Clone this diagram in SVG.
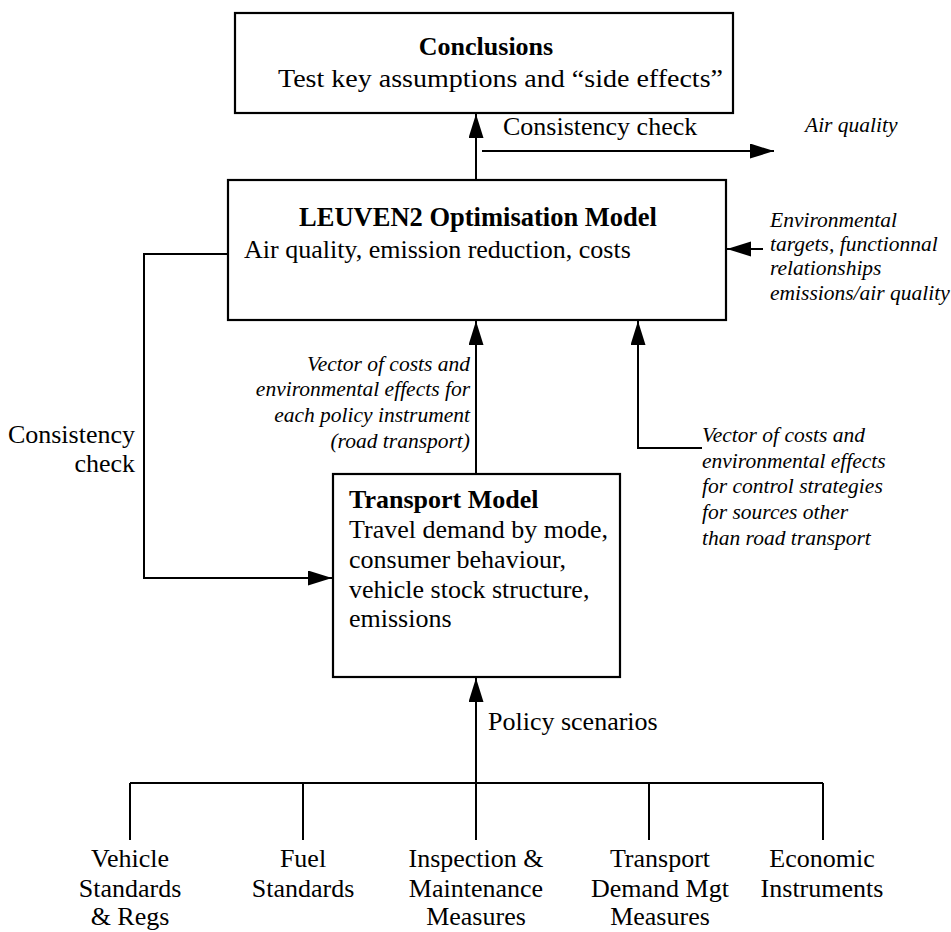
<svg xmlns="http://www.w3.org/2000/svg" width="951" height="932" viewBox="0 0 951 932">
<defs>
<marker id="ah" markerUnits="userSpaceOnUse" markerWidth="26" markerHeight="16" refX="24" refY="7.5" orient="auto">
<path d="M0,0 L24,7.5 L0,15 z" fill="#000"/>
</marker>
<style>
.box{fill:#fff;stroke:#000;stroke-width:2.2}
.ln{fill:none;stroke:#000;stroke-width:2}
.t{font-family:"Liberation Serif","Times New Roman",serif;font-size:26px;fill:#000}
.b{font-weight:bold}
.i{font-family:"Liberation Serif","Times New Roman",serif;font-style:italic;font-size:21.5px;fill:#000}
.c{text-anchor:middle}
.r{text-anchor:end}
</style>
</defs>
<rect width="951" height="932" fill="#fff"/>

<g id="connectors">
<line class="ln" x1="476" y1="180" x2="476" y2="114" marker-end="url(#ah)"/>
<line class="ln" x1="482" y1="151" x2="774" y2="151" marker-end="url(#ah)"/>
<line class="ln" x1="763" y1="249" x2="727" y2="249" marker-end="url(#ah)"/>
<polyline class="ln" points="228,254 144,254 144,578 332,578" marker-end="url(#ah)"/>
<line class="ln" x1="476" y1="474" x2="476" y2="321" marker-end="url(#ah)"/>
<polyline class="ln" points="702,448 638,448 638,321" marker-end="url(#ah)"/>
<line class="ln" x1="476" y1="783" x2="476" y2="678" marker-end="url(#ah)"/>
<line class="ln" x1="130" y1="783" x2="823" y2="783"/>
<line class="ln" x1="130" y1="783" x2="130" y2="840"/>
<line class="ln" x1="303" y1="783" x2="303" y2="840"/>
<line class="ln" x1="476" y1="783" x2="476" y2="840"/>
<line class="ln" x1="649" y1="783" x2="649" y2="840"/>
<line class="ln" x1="823" y1="783" x2="823" y2="840"/>
<text class="t" x="503" y="135">Consistency check</text>
<text class="i" x="805" y="132">Air quality</text>
<text class="t r" x="135" y="443">Consistency</text>
<text class="t r" x="135" y="472">check</text>
<text class="i r" x="470" y="371">Vector of costs and</text>
<text class="i r" x="470" y="396">environmental effects for</text>
<text class="i r" x="470" y="422">each policy instrument</text>
<text class="i r" x="470" y="448">(road transport)</text>
<text class="i" x="702" y="442">Vector of costs and</text>
<text class="i" x="702" y="468">environmental effects</text>
<text class="i" x="702" y="493">for control strategies</text>
<text class="i" x="702" y="519">for sources other</text>
<text class="i" x="702" y="545">than road transport</text>
<text class="i" x="770" y="227">Environmental</text>
<text class="i" x="770" y="251">targets, functionnal</text>
<text class="i" x="770" y="275">relationships</text>
<text class="i" x="770" y="300">emissions/air quality</text>
<text class="t" x="488" y="730">Policy scenarios</text>
</g>

<g id="conclusions">
<rect class="box" x="235" y="13" width="498" height="100"/>
<text class="t b c" x="486" y="55">Conclusions</text>
<text class="t" x="278" y="87" textLength="445" lengthAdjust="spacingAndGlyphs">Test key assumptions and “side effects”</text>
</g>

<g id="leuven2">
<rect class="box" x="228" y="180" width="498" height="140"/>
<text class="t b c" x="478" y="226" style="font-size:26.5px">LEUVEN2 Optimisation Model</text>
<text class="t" x="244" y="258">Air quality, emission reduction, costs</text>
</g>

<g id="transport">
<rect class="box" x="333" y="474" width="287" height="203"/>
<text class="t b" x="349" y="508">Transport Model</text>
<text class="t" x="349" y="538">Travel demand by mode,</text>
<text class="t" x="349" y="568">consumer behaviour,</text>
<text class="t" x="349" y="598">vehicle stock structure,</text>
<text class="t" x="349" y="627">emissions</text>
</g>

<g id="vehicle">
<text class="t c" x="130" y="867">Vehicle</text>
<text class="t c" x="130" y="897">Standards</text>
<text class="t c" x="130" y="925">&amp; Regs</text>
</g>
<g id="fuel">
<text class="t c" x="303" y="867">Fuel</text>
<text class="t c" x="303" y="897">Standards</text>
</g>
<g id="inspection">
<text class="t c" x="476" y="867">Inspection &amp;</text>
<text class="t c" x="476" y="897">Maintenance</text>
<text class="t c" x="476" y="925">Measures</text>
</g>
<g id="tdm">
<text class="t c" x="660" y="867">Transport</text>
<text class="t c" x="660" y="897">Demand Mgt</text>
<text class="t c" x="660" y="925">Measures</text>
</g>
<g id="economic">
<text class="t c" x="822" y="867">Economic</text>
<text class="t c" x="822" y="897">Instruments</text>
</g>
</svg>
